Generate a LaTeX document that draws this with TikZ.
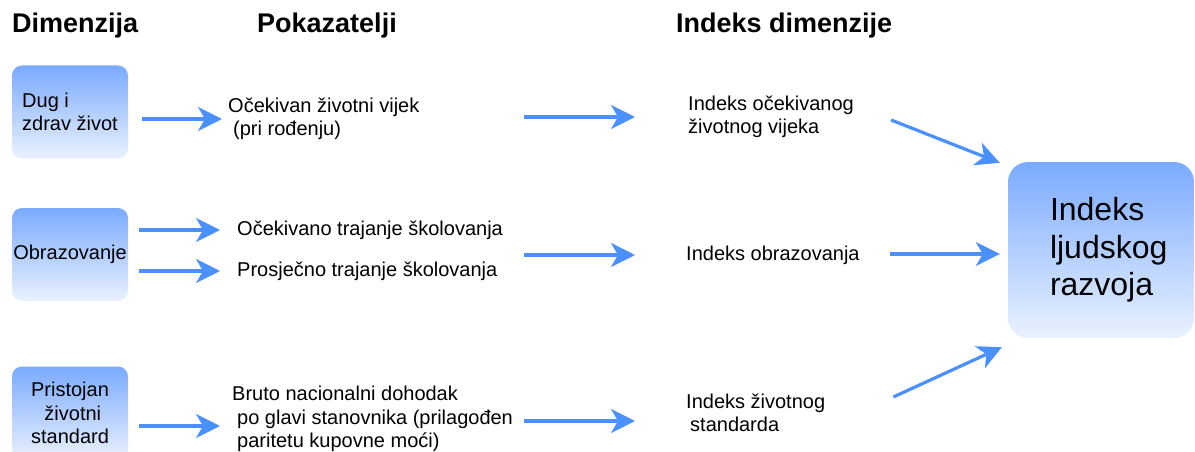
\documentclass[tikz,border=0pt]{standalone}
\usepackage{fontspec}
\setmainfont{Liberation Sans}
\usetikzlibrary{arrows.meta}
\definecolor{arrowblue}{RGB}{74,144,255}
\definecolor{boxtop}{RGB}{122,170,255}
\definecolor{boxbot}{RGB}{234,242,255}
\tikzset{arr/.style={arrowblue, line width=3.2pt,
  -{Stealth[length=24pt, width=24pt, inset=7pt]}}}
\tikzset{dimbox/.style={shade, top color=boxtop, bottom color=boxbot,
  rounded corners=10pt, minimum width=116pt, minimum height=93pt,
  inner sep=0pt, align=center, font=\fontsize{20}{23.5}\selectfont}}
\tikzset{hdibox/.style={dimbox, rounded corners=20pt,
  minimum width=186pt, minimum height=176pt}}
\tikzset{txt/.style={anchor=west, inner sep=0pt, align=left,
  font=\fontsize{20}{23.5}\selectfont}}
\tikzset{head/.style={anchor=base west, inner sep=0pt,
  font=\bfseries\fontsize{27}{31}\selectfont}}

\begin{document}
\begin{tikzpicture}[x=1pt, y=-1pt]
      \useasboundingbox (0,0) rectangle (1195,452);

      \node [head] (hdim) at (12,33) {Dimenzija};
      \node [head] (hpok) at (257,33) {Pokazatelji};
      \node [head] (hind) at (676,33) {Indeks dimenzije};

      \node [dimbox, align=left] (dim1) at (70,112) {Dug i\\zdrav život};
      \node [dimbox] (dim2) at (70,254.5) {Obrazovanje};
      \node [dimbox] (dim3) at (70,413) {Pristojan\\\hspace*{0.28em}životni\\standard};

      \node [txt] (pok1) at (228,119) {Očekivan životni vijek\\\hspace*{5pt}(pri rođenju)};
      \node [txt] (pok2) at (237,230) {Očekivano trajanje školovanja};
      \node [txt] (pok3) at (237,271) {Prosječno trajanje školovanja};
      \node [txt] (pok4) at (232,419) {Bruto nacionalni dohodak\\\hspace*{5pt}po glavi stanovnika (prilagođen\\\hspace*{5pt}paritetu kupovne moći)};

      \node [txt] (ind1) at (688,117) {Indeks očekivanog\\životnog vijeka};
      \node [txt] (ind2) at (686,255) {Indeks obrazovanja};
      \node [txt] (ind3) at (686,413) {Indeks životnog\\\hspace*{4pt}standarda};

      \node [hdibox] (hdi) at (1101,250) {};
      \node [txt, font=\fontsize{32}{37.5}\selectfont] (hdit) at ([xshift=42pt]hdi.west) {Indeks\\ljudskog\\razvoja};

      % dimenzija -> pokazatelji
      \draw [arr] ([xshift=14pt]dim1.east |- pok1.west) -- ([xshift=-6pt]pok1.west);
      \draw [arr] ([xshift=11pt]dim2.east |- pok2.west) -- ([xshift=-17pt]pok2.west);
      \draw [arr] ([xshift=11pt]dim2.east |- pok3.west) -- ([xshift=-17pt]pok3.west);
      \draw [arr] ([xshift=11pt, yshift=-13pt]dim3.east) -- ([xshift=-12pt, yshift=-7pt]pok4.west);

      % pokazatelji -> indeksi
      \draw [arr] ([xshift=-164pt]ind1.west) -- ([xshift=-53pt]ind1.west);
      \draw [arr] ([xshift=-162pt]ind2.west) -- ([xshift=-51pt]ind2.west);
      \draw [arr] ([xshift=-162pt, yshift=-8pt]ind3.west) -- ([xshift=-51pt, yshift=-8pt]ind3.west);

      % indeksi -> HDI
      \draw [arr] ([xshift=37pt, yshift=-3pt]ind1.east) -- ([xshift=-8pt, yshift=-1pt]hdi.north west);
      \draw [arr] ([xshift=30pt, yshift=1pt]ind2.east) -- ([xshift=-8pt, yshift=-4pt]hdi.west);
      \draw [arr] ([xshift=68pt, yshift=16pt]ind3.east) -- ([xshift=-6pt, yshift=-9pt]hdi.south west);
    \end{tikzpicture}
\end{document}
